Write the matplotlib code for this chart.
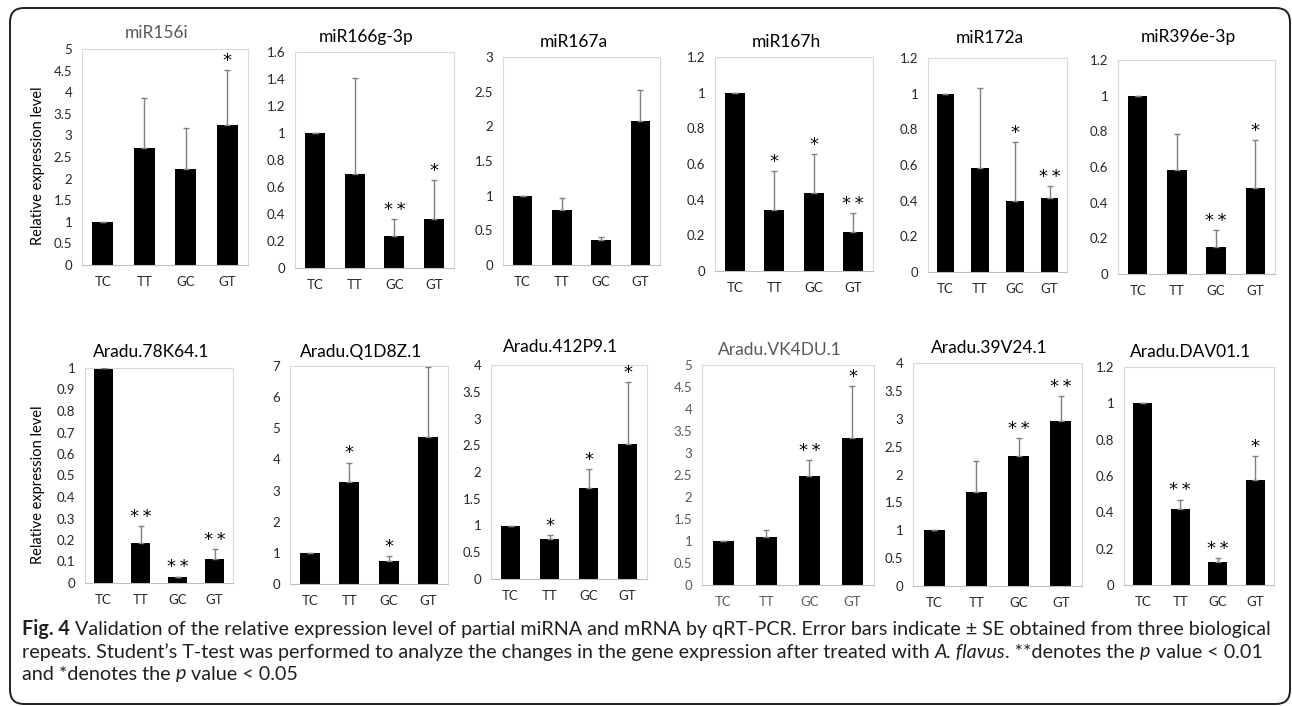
import matplotlib
matplotlib.use('Agg')
import matplotlib.pyplot as plt
from matplotlib.patches import FancyBboxPatch
from matplotlib.transforms import IdentityTransform
from matplotlib.font_manager import FontProperties

plt.rcParams['font.family'] = ['Lato', 'DejaVu Sans']

W, H = 1292, 706

groups = ['TC', 'TT', 'GC', 'GT']

titles = ['miR156i', 'miR166g-3p', 'miR167a', 'miR167h', 'miR172a', 'miR396e-3p',
          'Aradu.78K64.1', 'Aradu.Q1D8Z.1', 'Aradu.412P9.1', 'Aradu.VK4DU.1',
          'Aradu.39V24.1', 'Aradu.DAV01.1']

# mean relative expression (TC, TT, GC, GT)
means = [
    [1.0, 2.70, 2.23, 3.25],
    [1.0, 0.70, 0.235, 0.365],
    [1.0, 0.79, 0.36, 2.07],
    [1.0, 0.344, 0.44, 0.216],
    [1.0, 0.583, 0.398, 0.415],
    [1.0, 0.584, 0.153, 0.485],
    [1.0, 0.184, 0.026, 0.11],
    [1.0, 3.29, 0.745, 4.72],
    [1.0, 0.75, 1.70, 2.53],
    [1.0, 1.09, 2.48, 3.33],
    [1.0, 1.69, 2.34, 2.96],
    [1.0, 0.418, 0.126, 0.577],
]

# standard errors (upper bars only)
errors = [
    [0, 1.17, 0.95, 1.26],
    [0, 0.71, 0.125, 0.285],
    [0, 0.17, 0.05, 0.45],
    [0, 0.216, 0.214, 0.109],
    [0, 0.447, 0.329, 0.067],
    [0, 0.201, 0.093, 0.267],
    [0, 0.079, 0.004, 0.047],
    [0, 0.61, 0.14, 2.25],
    [0, 0.07, 0.35, 1.15],
    [0, 0.15, 0.35, 1.19],
    [0, 0.55, 0.31, 0.44],
    [0, 0.052, 0.022, 0.133],
]

stars = [
    ['', '', '', '*'],
    ['', '', '**', '*'],
    ['', '', '', ''],
    ['', '*', '*', '**'],
    ['', '', '*', '**'],
    ['', '', '**', '*'],
    ['', '**', '**', '**'],
    ['', '*', '*', ''],
    ['', '*', '*', '*'],
    ['', '', '**', '*'],
    ['', '', '**', '**'],
    ['', '**', '**', '*'],
]

ymax = [5, 1.6, 3, 1.2, 1.2, 1.2, 1, 7, 4, 5, 4, 1.2]
ystep = [0.5, 0.2, 0.5, 0.2, 0.2, 0.2, 0.1, 1, 0.5, 0.5, 0.5, 0.2]

# panel boxes in pixels: left, right, top, bottom
boxes = [
    (82, 248, 49, 265), (295, 454, 52, 268), (503, 660, 57, 265),
    (715, 873, 57, 271), (928, 1067, 58, 272), (1118, 1275, 60, 274),
    (85, 233, 368, 583), (290, 448, 366, 584), (491, 647, 365, 579),
    (702, 874, 365, 585), (913, 1082, 363, 586), (1124, 1274, 367, 585),
]
title_y = [33, 37, 42, 42, 38, 37, 352, 352, 347, 350, 348, 352]
grey_titles = {0, 9}
grey_ticks = {9}

fig = plt.figure(figsize=(W / 100, H / 100), dpi=100)

for i in range(12):
    l, r, t, b = boxes[i]
    ax = fig.add_axes([l / W, 1 - b / H, (r - l) / W, (b - t) / H])
    x = range(len(groups))
    ax.bar(x, means[i], width=0.5, color='black', zorder=2)
    ax.errorbar(x, means[i], yerr=[[0] * 4, errors[i]], fmt='none',
                ecolor='#808080', elinewidth=1.0, capsize=2, capthick=1.0, zorder=3)
    for j, s in enumerate(stars[i]):
        if s:
            ax.annotate('\u2009'.join(s), (j, means[i][j] + errors[i][j]), xytext=(0, 3),
                        textcoords='offset points', ha='center', va='baseline',
                        fontsize=13, family='DejaVu Sans', color='black')
    ax.set_xlim(-0.5, 3.5)
    ax.set_ylim(0, ymax[i])
    n = int(round(ymax[i] / ystep[i]))
    ticks = [round(k * ystep[i], 3) for k in range(n + 1)]
    ax.set_yticks(ticks)
    ax.set_yticklabels(['%g' % v for v in ticks])
    ax.set_xticks(list(x))
    ax.set_xticklabels(groups)
    tc = '#595959' if i in grey_ticks else '#262626'
    ax.tick_params(axis='y', length=0, pad=7, labelsize=9.5, labelcolor=tc)
    ax.tick_params(axis='x', length=0, pad=8, labelsize=9.5, labelcolor=tc)
    for sp in ax.spines.values():
        sp.set_color('#d9d9d9')
        sp.set_linewidth(0.8)
    ax.spines['bottom'].set_color('#bfbfbf')
    fig.text((l + r) / 2 / W - 8 / W, 1 - title_y[i] / H, titles[i],
             ha='center', va='center', fontsize=12.5,
             color='#595959' if i in grey_titles else 'black')
    if i in (0, 6):
        fig.text(38 / W, 1 - ((t + b) / 2 + 9) / H, 'Relative expression level',
                 rotation=90, ha='center', va='center', fontsize=10.5, color='black')

# caption
cap_color = '#231f20'
caption = [
    [('Fig. 4', 'bold', 'normal'),
     (' Validation of the relative expression level of partial miRNA and mRNA by qRT-PCR. '
      'Error bars indicate \u00b1 SE obtained from three biological', 'normal', 'normal')],
    [('repeats. Student\u2019s T-test was performed to analyze the changes in the gene '
      'expression after treated with ', 'normal', 'normal'),
     ('A. flavus', 'normal', 'italic'),
     ('. **denotes the ', 'normal', 'normal'),
     ('p', 'normal', 'italic'),
     (' value < 0.01', 'normal', 'normal')],
    [('and *denotes the ', 'normal', 'normal'),
     ('p', 'normal', 'italic'),
     (' value < 0.05', 'normal', 'normal')],
]
cap_y = [629, 652, 674]
renderer = fig.canvas.get_renderer()


def piece_width(s, size, weight, style):
    fp = FontProperties(family=['Lato', 'DejaVu Sans'], size=size, weight=weight, style=style)
    w1, _, _ = renderer.get_text_width_height_descent('|' + s + '|', fp, ismath=False)
    w0, _, _ = renderer.get_text_width_height_descent('||', fp, ismath=False)
    return (w1 - w0)


def line_width(pieces, size):
    return sum(piece_width(s, size, w, st) for s, w, st in pieces)


cap_size = 12 * (1248 / line_width(caption[0], 12))
for pieces, yy in zip(caption, cap_y):
    xx = 22
    for s, w, st in pieces:
        lead = len(s) - len(s.lstrip(' '))
        x_txt = xx + (piece_width(' ' * lead, cap_size, w, st) if lead else 0)
        fig.text(x_txt / W, 1 - yy / H, s.strip(), fontsize=cap_size, fontweight=w,
                 fontstyle=st, color=cap_color, ha='left', va='center')
        xx += piece_width(s, cap_size, w, st)

border = FancyBboxPatch((10, 2), 1280, 696, boxstyle='round,pad=0,rounding_size=14',
                        transform=IdentityTransform(), fill=False, lw=1.4, ec='#231f20')
fig.add_artist(border)

fig.savefig('out.png', dpi=100)
